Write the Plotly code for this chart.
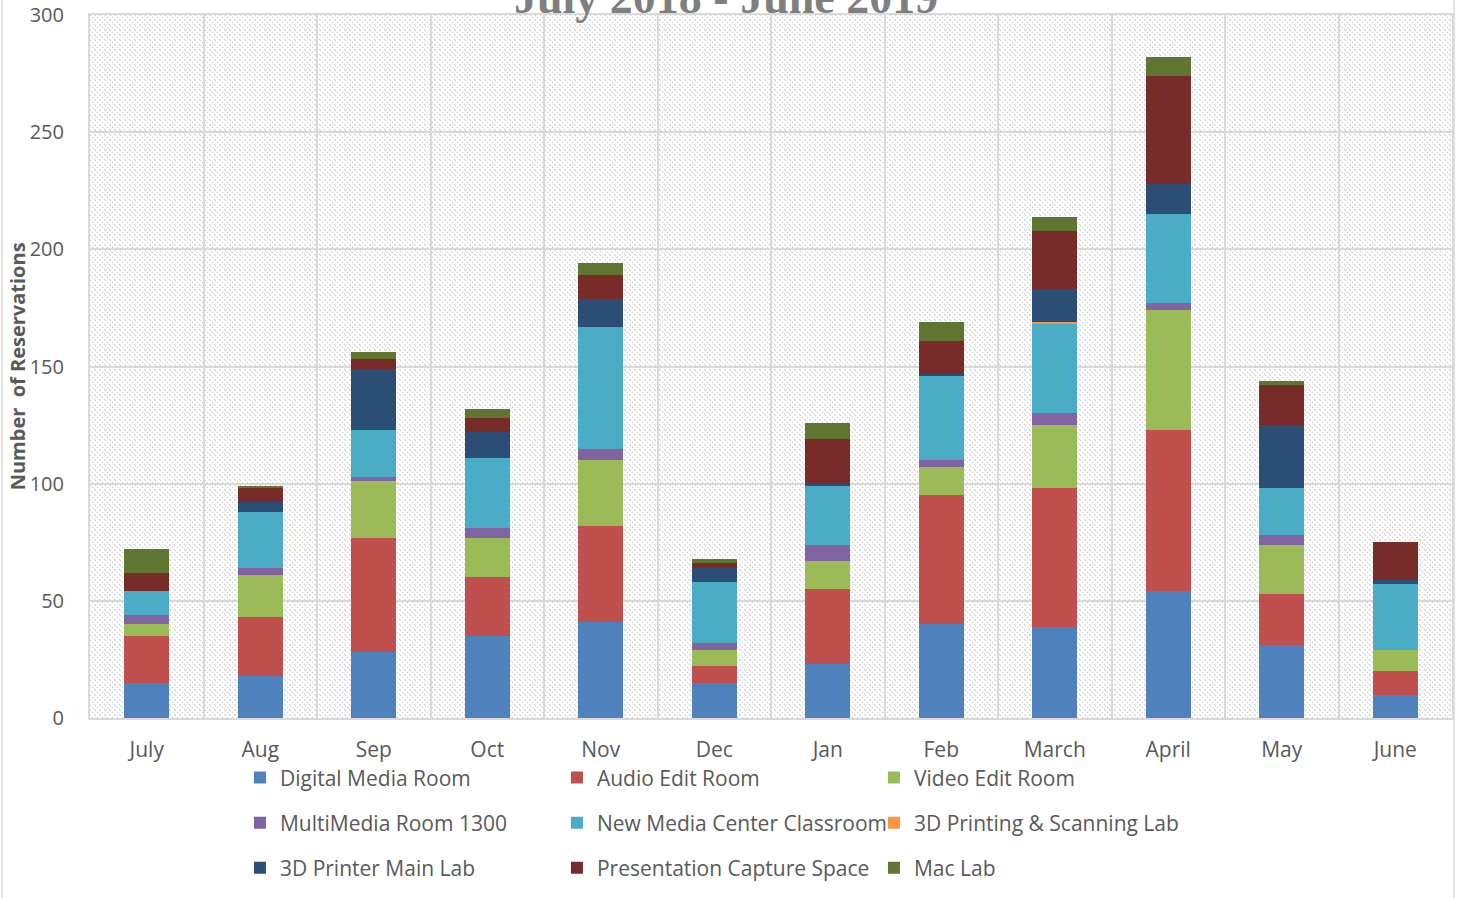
import base64
import plotly.graph_objects as go

months = ["July", "Aug", "Sep", "Oct", "Nov", "Dec", "Jan", "Feb", "March", "April", "May", "June"]

digital_media_room = [15, 18, 28, 35, 41, 15, 23, 40, 39, 54, 31, 10]
audio_edit_room = [20, 25, 49, 25, 41, 7, 32, 55, 59, 69, 22, 10]
video_edit_room = [5, 18, 24, 17, 28, 7, 12, 12, 27, 51, 21, 9]
multimedia_room_1300 = [4, 3, 2, 4, 5, 3, 7, 3, 5, 3, 4, 0]
new_media_center_classroom = [10, 24, 20, 30, 52, 26, 25, 36, 38, 38, 20, 28]
printing_scanning_lab = [0, 0, 0, 0, 0, 0, 0, 0, 1, 0, 0, 0]
printer_main_lab = [0, 4, 26, 11, 12, 6, 1, 1, 14, 13, 27, 2]
presentation_capture_space = [8, 6, 4, 6, 10, 2, 19, 14, 25, 46, 17, 16]
mac_lab = [10, 1, 3, 4, 5, 2, 7, 8, 6, 8, 2, 0]

series = [
    ("Digital Media Room", digital_media_room, "#4F81BD", "legend"),
    ("Audio Edit Room", audio_edit_room, "#C0504D", "legend"),
    ("Video Edit Room", video_edit_room, "#9BBB59", "legend"),
    ("MultiMedia Room 1300", multimedia_room_1300, "#8064A2", "legend2"),
    ("New Media Center Classroom", new_media_center_classroom, "#4BACC6", "legend2"),
    ("3D Printing & Scanning Lab", printing_scanning_lab, "#F79646", "legend2"),
    ("3D Printer Main Lab", printer_main_lab, "#2C4D75", "legend3"),
    ("Presentation Capture Space", presentation_capture_space, "#772C2A", "legend3"),
    ("Mac Lab", mac_lab, "#5F7530", "legend3"),
]

FONT = "Open Sans"
GRAY = "#595959"
GRID = "#d9d9d9"

fig = go.Figure()
for name, vals, color, leg in series:
    fig.add_trace(go.Bar(
        x=months, y=vals, name=name, marker=dict(color=color, line=dict(width=0)),
        legend=leg,
    ))

# hatched plot background
svg = (
    "<svg xmlns='http://www.w3.org/2000/svg' width='1362' height='703'>"
    "<defs><pattern id='p' width='5' height='5' patternUnits='userSpaceOnUse'>"
    "<path d='M0,0 L5,5 M-1,4 L1,6 M4,-1 L6,1' stroke='#cccccc' stroke-width='1.1' "
    "stroke-dasharray='1.4,1.4'/>"
    "</pattern></defs><rect width='100%' height='100%' fill='white'/>"
    "<rect width='100%' height='100%' fill='url(#p)'/></svg>"
)
src = "data:image/svg+xml;base64," + base64.b64encode(svg.encode()).decode()
fig.add_layout_image(dict(source=src, xref="paper", yref="paper", x=0, y=1,
                          sizex=1, sizey=1, xanchor="left", yanchor="top",
                          sizing="stretch", layer="below"))

leg_common = dict(orientation="h", entrywidth=272, entrywidthmode="pixels",
                  font=dict(family=FONT, size=21, color=GRAY), bgcolor="rgba(0,0,0,0)",
                  x=0.1101, xanchor="left", yanchor="middle", traceorder="normal")

fig.update_layout(
    width=1459, height=898,
    margin=dict(l=90, r=7, t=15, b=180, autoexpand=False),
    barmode="stack", bargap=0.6,
    paper_bgcolor="white", plot_bgcolor="rgba(0,0,0,0)",
    font=dict(family=FONT, color=GRAY),
    legend=dict(y=-0.0853, **leg_common),
    legend2=dict(y=-0.1494, **leg_common),
    legend3=dict(y=-0.2134, **leg_common),
    xaxis=dict(tickson="boundaries", showgrid=True, gridcolor=GRID, gridwidth=2,
               showline=True, linecolor=GRID, linewidth=2, mirror=True, ticks="",
               automargin=False,
               tickfont=dict(family=FONT, size=21, color=GRAY), ticklabelstandoff=12),
    yaxis=dict(range=[0, 300], dtick=50, showgrid=True, gridcolor=GRID, gridwidth=2,
               showline=True, linecolor=GRID, linewidth=2, mirror=True, ticks="",
               zeroline=False, automargin=False,
               tickfont=dict(family=FONT, size=20, color=GRAY), ticklabelstandoff=20),
    annotations=[
        dict(text="<b>July 2018 - June 2019</b>", xref="paper", yref="paper",
             x=0.4673, y=1.0246, xanchor="center", yanchor="middle", showarrow=False,
             font=dict(family="Liberation Serif", size=46, color="#7f7f7f")),
        dict(text="<b>Number  of Reservations</b>", xref="paper", yref="paper",
             x=-0.0530, y=0.5, xanchor="center", yanchor="middle", textangle=-90,
             showarrow=False, font=dict(family=FONT, size=20, color=GRAY)),
    ],
    shapes=[dict(type="rect", xref="paper", yref="paper", x0=-0.0646, x1=1.0015,
                 y0=-0.3, y1=1.1, line=dict(color=GRID, width=1.5), layer="below")],
)

fig.write_html("out.html", config={"displayModeBar": False},
               post_script="document.body.style.margin='0';")
